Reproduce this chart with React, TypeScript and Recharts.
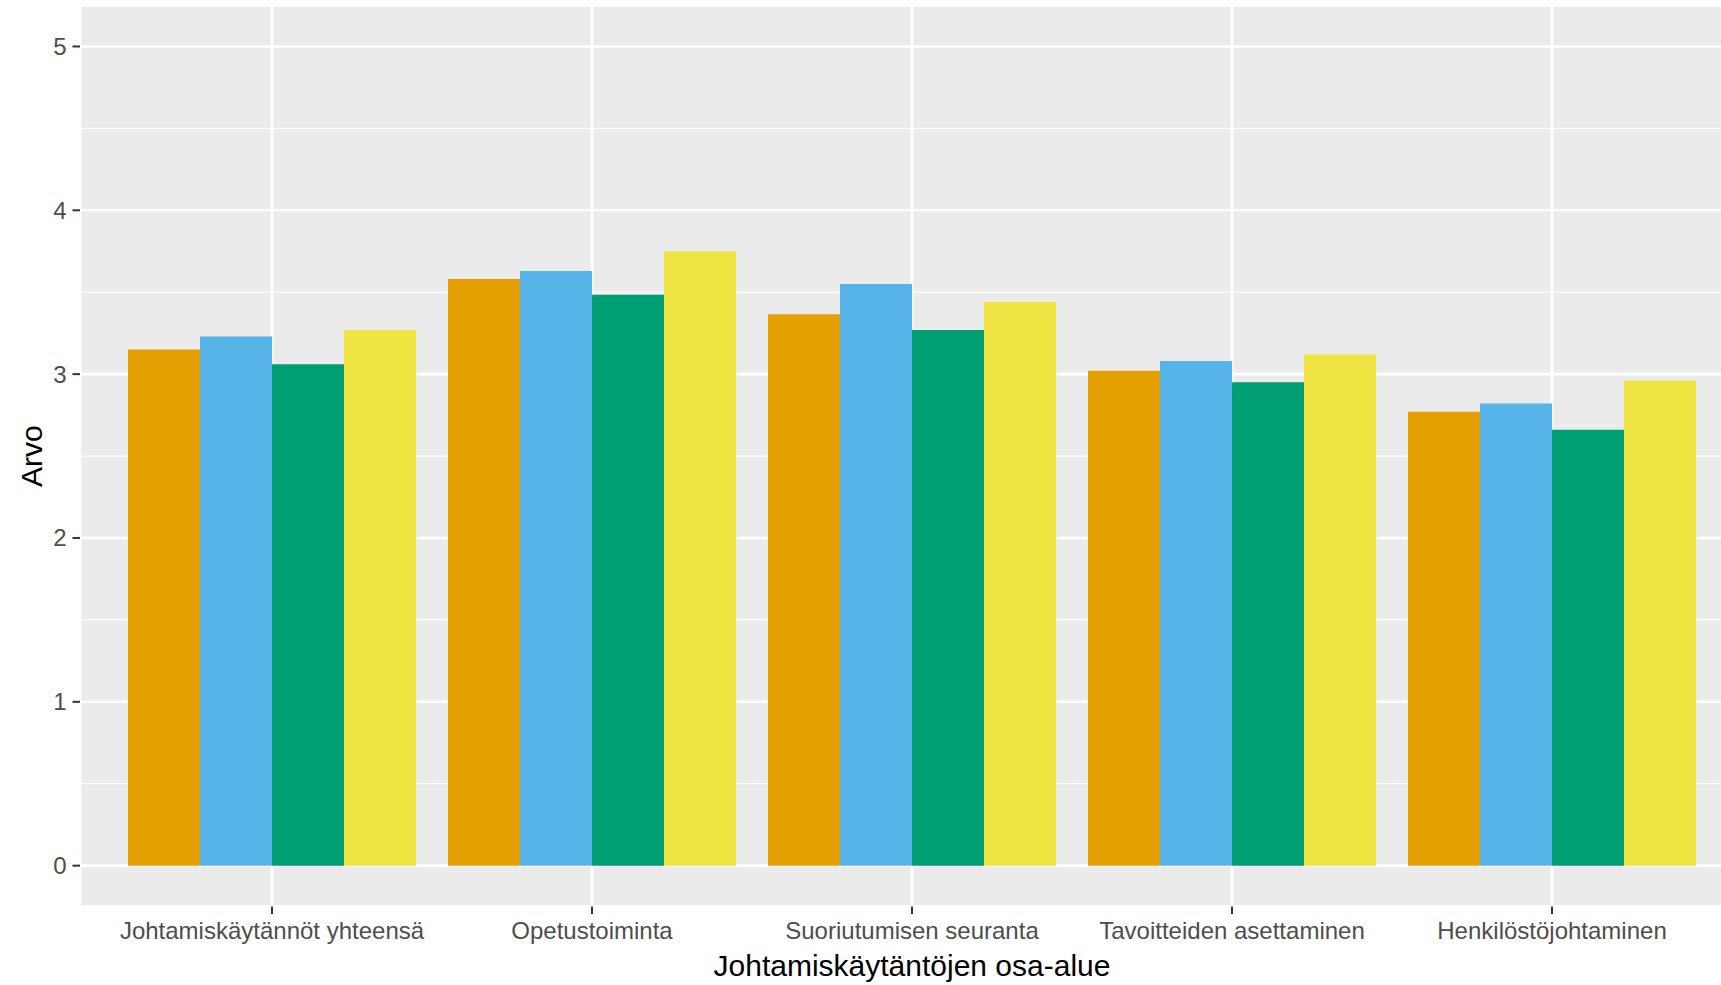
import { BarChart, Bar, XAxis, YAxis, CartesianGrid, Label } from 'recharts'

const categories = [
  'Johtamiskäytännöt yhteensä',
  'Opetustoiminta',
  'Suoriutumisen seuranta',
  'Tavoitteiden asettaminen',
  'Henkilöstöjohtaminen'
]

const ryhma1 = [3.15, 3.58, 3.365, 3.02, 2.77]
const ryhma2 = [3.23, 3.63, 3.55, 3.08, 2.82]
const ryhma3 = [3.06, 3.485, 3.27, 2.95, 2.66]
const ryhma4 = [3.27, 3.75, 3.44, 3.12, 2.96]

const majorTicks = [0, 1, 2, 3, 4, 5]
const minorTicks = [0.5, 1.5, 2.5, 3.5, 4.5]

const series = [
  { key: 'ryhma1', color: '#E69F00' },
  { key: 'ryhma2', color: '#56B4E9' },
  { key: 'ryhma3', color: '#009E73' },
  { key: 'ryhma4', color: '#F0E442' }
]

const data = categories.map((name, i) => ({
  name,
  ryhma1: ryhma1[i],
  ryhma2: ryhma2[i],
  ryhma3: ryhma3[i],
  ryhma4: ryhma4[i]
}))

const font = '"Liberation Sans", Arial, Helvetica, sans-serif'
const domain: [number, number] = [-0.25, 5.25]

export default function App() {
  return (
    <div style={{ position: 'absolute', left: 0, top: 0, width: 1721, height: 985, overflow: 'hidden', background: '#fff' }}>
      <BarChart
        width={1760}
        height={985}
        data={data}
        margin={{ top: 5.5, right: 16, bottom: 0, left: 0 }}
        barGap={0}
        style={{ fontFamily: font }}
      >
        <CartesianGrid
          yAxisId="minor"
          vertical={false}
          stroke="#FFFFFF"
          strokeWidth={1.3}
          fill="#EBEBEB"
          fillOpacity={1}
        />
        <CartesianGrid stroke="#FFFFFF" strokeWidth={2.6} />
        <XAxis
          dataKey="name"
          height={78.4}
          padding={{ left: 32, right: 32 }}
          axisLine={false}
          tickSize={7.5}
          tickMargin={8}
          tickLine={{ stroke: '#333333', strokeWidth: 2 }}
          tick={{ fill: '#4D4D4D', fontSize: 24, fontFamily: font }}
          interval={0}
        >
          <Label
            content={({ viewBox }: any) => (
              <text
                x={viewBox.x + viewBox.width / 2}
                y={viewBox.y + viewBox.height - 9}
                textAnchor="middle"
                fontSize={30}
                fontFamily={font}
                fill="#000000"
              >
                Johtamiskäytäntöjen osa-alue
              </text>
            )}
          />
        </XAxis>
        <YAxis
          width={80}
          domain={domain}
          ticks={majorTicks}
          allowDataOverflow
          axisLine={false}
          tickSize={7.5}
          tickMargin={6}
          tickLine={{ stroke: '#333333', strokeWidth: 2 }}
          tick={{ fill: '#4D4D4D', fontSize: 24, fontFamily: font }}
        >
          <Label
            content={({ viewBox }: any) => {
              const cx = viewBox.x + 42
              const cy = viewBox.y + viewBox.height / 2
              return (
                <text
                  x={cx}
                  y={cy}
                  transform={`rotate(-90, ${cx}, ${cy})`}
                  textAnchor="middle"
                  fontSize={30}
                  fontFamily={font}
                  fill="#000000"
                >
                  Arvo
                </text>
              )
            }}
          />
        </YAxis>
        <YAxis yAxisId="minor" hide domain={domain} ticks={minorTicks} allowDataOverflow />
        {series.map(s => (
          <Bar
            key={s.key}
            dataKey={s.key}
            fill={s.color}
            barSize={72}
            isAnimationActive={false}
          />
        ))}
      </BarChart>
    </div>
  )
}
